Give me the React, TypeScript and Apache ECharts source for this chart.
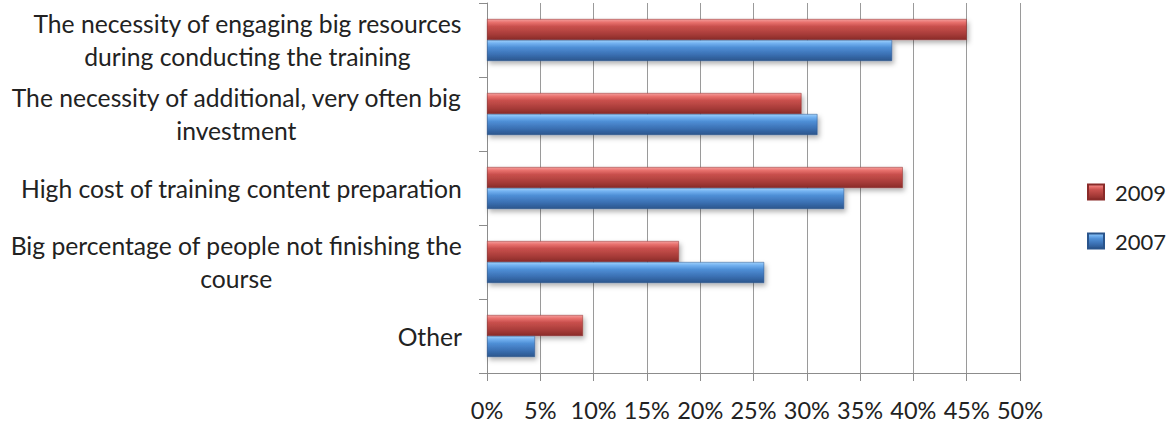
import React, { useEffect, useRef } from "react";
import * as echarts from "echarts";

const categories = [
  "The necessity of engaging big resources\nduring conducting the training",
  "The necessity of additional, very often big\ninvestment",
  "High cost of training content preparation",
  "Big percentage of people not finishing the\ncourse",
  "Other",
];
const series2009 = [45, 29.5, 39, 18, 9];
const series2007 = [38, 31, 33.5, 26, 4.5];
const xTicks = [0, 5, 10, 15, 20, 25, 30, 35, 40, 45, 50];

const FONT = "Lato, 'Liberation Sans', sans-serif";

const redGrad = new echarts.graphic.LinearGradient(0, 0, 0, 1, [
  { offset: 0, color: "#f4a09d" },
  { offset: 0.15, color: "#e9716e" },
  { offset: 0.35, color: "#c9504d" },
  { offset: 0.7, color: "#aa3d3a" },
  { offset: 1, color: "#8a2b29" },
]);
const blueGrad = new echarts.graphic.LinearGradient(0, 0, 0, 1, [
  { offset: 0, color: "#9fd0fb" },
  { offset: 0.15, color: "#72b1f0" },
  { offset: 0.35, color: "#4f8fd6" },
  { offset: 0.7, color: "#3a6fb2" },
  { offset: 1, color: "#2a558c" },
]);

export default function App() {
  const ref = useRef<HTMLDivElement>(null);
  useEffect(() => {
    if (!ref.current) return;
    const chart = echarts.init(ref.current, undefined, { renderer: "svg" });
    chart.setOption({
      animation: false,
      backgroundColor: "#ffffff",
      textStyle: { fontFamily: FONT },
      grid: { left: 487, right: 148, top: 3, bottom: 52, containLabel: false },
      legend: {
        orient: "vertical",
        left: 1087,
        top: 181,
        padding: 0,
        itemWidth: 16,
        itemHeight: 15,
        itemGap: 27,
        icon: "rect",
        data: ["2009", "2007"],
        textStyle: { fontSize: 22, color: "#222", fontFamily: FONT, padding: [0, 0, 0, 6] },
      },
      xAxis: {
        type: "value",
        min: 0,
        max: 50,
        interval: 5,
        axisLine: { show: true, lineStyle: { color: "#8c8c8c", width: 1 } },
        axisTick: { show: true, length: 8, lineStyle: { color: "#8c8c8c" } },
        splitLine: { show: true, lineStyle: { color: "#9a9a9a", width: 1 } },
        axisLabel: {
          margin: 25,
          fontSize: 23.5,
          color: "#222",
          fontFamily: FONT,
          formatter: (v: number) => (xTicks.includes(v) ? v + "%" : ""),
        },
      },
      yAxis: {
        type: "category",
        inverse: true,
        data: categories,
        axisLine: { show: true, lineStyle: { color: "#8c8c8c", width: 1 } },
        axisTick: { show: true, length: 8, lineStyle: { color: "#8c8c8c" } },
        splitLine: { show: false },
        axisLabel: {
          margin: 25,
          fontSize: 24.7,
          color: "#222",
          fontFamily: FONT,
          lineHeight: 33,
          align: "right",
          formatter: (v: string) =>
            v
              .split("\n")
              .map((l) => "{c|" + l + "}")
              .join("\n"),
          rich: {
            c: { align: "center", fontSize: 24.7, lineHeight: 33, color: "#222", fontFamily: FONT },
          },
        },
      },
      series: [
        {
          name: "2009",
          type: "bar",
          data: series2009,
          barWidth: 21,
          barGap: "0%",
          itemStyle: {
            color: redGrad,
            borderColor: "#8a2b29",
            borderWidth: 0.5,
            shadowColor: "rgba(0,0,0,0.3)",
            shadowBlur: 5,
            shadowOffsetX: 2,
            shadowOffsetY: 3,
          },
        },
        {
          name: "2007",
          type: "bar",
          data: series2007,
          barWidth: 21,
          barGap: "0%",
          itemStyle: {
            color: blueGrad,
            borderColor: "#2a558c",
            borderWidth: 0.5,
            shadowColor: "rgba(0,0,0,0.3)",
            shadowBlur: 5,
            shadowOffsetX: 2,
            shadowOffsetY: 3,
          },
        },
      ],
    });
    return () => chart.dispose();
  }, []);
  return (
    <div
      ref={ref}
      style={{ width: 1168, height: 425, position: "absolute", left: 0, top: 0 }}
    />
  );
}
